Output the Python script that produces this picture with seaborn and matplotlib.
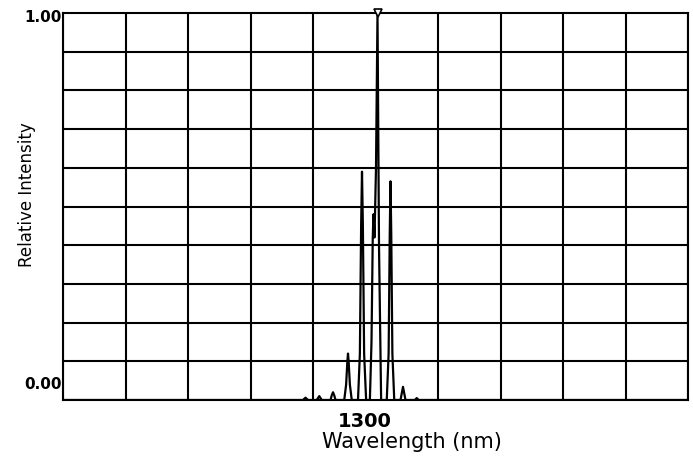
import numpy as np
import pandas as pd
import matplotlib
matplotlib.use("Agg")
import matplotlib.pyplot as plt
import seaborn as sns
from matplotlib.transforms import ScaledTranslation

# Spectrum trace (wavelength in nm, relative intensity)
wavelength = [1275.0, 1294.2, 1294.4, 1294.6, 1295.3, 1295.5, 1295.7,
              1296.4, 1296.5, 1296.6, 1296.7, 1296.8,
              1297.5, 1297.65, 1297.75, 1297.8, 1297.85, 1297.95, 1298.1,
              1298.6, 1298.75, 1298.85, 1298.92, 1298.99, 1299.09, 1299.25,
              1299.55, 1299.68, 1299.78, 1299.84, 1299.92, 1300.04, 1300.16, 1300.28, 1300.45,
              1300.9, 1301.05, 1301.14, 1301.2, 1301.26, 1301.35, 1301.5,
              1302.0, 1302.1, 1302.2, 1302.3, 1302.4,
              1303.15, 1303.3, 1303.45, 1325.0]
intensity = [0.0, 0.0, 0.006, 0.0, 0.0, 0.01, 0.0,
             0.0, 0.012, 0.02, 0.012, 0.0,
             0.0, 0.04, 0.10, 0.12, 0.10, 0.04, 0.0,
             0.0, 0.12, 0.45, 0.59, 0.45, 0.12, 0.0,
             0.0, 0.15, 0.42, 0.48, 0.42, 0.6, 1.0, 0.4, 0.0,
             0.0, 0.12, 0.43, 0.565, 0.43, 0.12, 0.0,
             0.0, 0.017, 0.034, 0.017, 0.0,
             0.0, 0.005, 0.0, 0.0]

# Peak marker
marker_wl = [1300.16]
marker_int = [1.0]

x_ticks = [1300]
x_tick_labels = ["1300"]
y_ticks = [0.0, 1.0]
y_tick_labels = ["0.00", "1.00"]

sns.set_theme(style="white")
plt.rcParams['font.family'] = ['DejaVu Sans']
plt.rcParams['text.color'] = 'black'
plt.rcParams['axes.labelcolor'] = 'black'
plt.rcParams['xtick.color'] = 'black'
plt.rcParams['ytick.color'] = 'black'

fig = plt.figure(figsize=(6.93, 4.64), dpi=100)
ax = fig.add_axes([63 / 693, 63 / 464, 625 / 693, 387 / 464])

df = pd.DataFrame({"wl": wavelength, "inten": intensity})
sns.lineplot(data=df, x="wl", y="inten", color="black", lw=1.6,
             estimator=None, ax=ax)
ax.plot(marker_wl, marker_int, marker="v", ms=6, mfc="white", mec="black",
        mew=1.2, ls="none", clip_on=False, zorder=5)

ax.set_xlim(1275, 1325)
ax.set_ylim(0, 1)

ax.set_xticks(np.arange(1275, 1326, 5), minor=True)
ax.set_yticks(np.arange(0, 1.01, 0.1), minor=True)
ax.set_xticks(x_ticks)
ax.set_xticklabels(x_tick_labels, fontsize=14, fontweight="bold")
ax.set_yticks(y_ticks)
ax.set_yticklabels(y_tick_labels, fontsize=11, fontweight="bold")
ax.grid(False, which="major")
ax.grid(True, which="minor", color="black", lw=1.5)
ax.tick_params(which="both", length=0)
ax.tick_params(axis="x", pad=8)
ax.tick_params(axis="y", pad=1)

for s in ax.spines.values():
    s.set_color("black")
    s.set_linewidth(1.5)

# offsets of tick labels as in the original
for lbl in ax.get_xticklabels():
    lbl.set_transform(lbl.get_transform() + ScaledTranslation(-11 / 100, 0, fig.dpi_scale_trans))
ylbls = ax.get_yticklabels()
ylbls[0].set_transform(ylbls[0].get_transform() + ScaledTranslation(0, 18 / 100, fig.dpi_scale_trans))
ylbls[1].set_transform(ylbls[1].get_transform() + ScaledTranslation(0, -2 / 100, fig.dpi_scale_trans))

ax.set_xlabel("Wavelength (nm)", fontsize=15)
ax.set_ylabel("Relative Intensity", fontsize=12)
ax.xaxis.set_label_coords(0.558, -0.105)
ax.yaxis.set_label_coords(-0.058, 0.532)
ax.xaxis.label.set_va("center")
ax.yaxis.label.set_va("center")

fig.savefig("out.png", dpi=100, facecolor="white")
